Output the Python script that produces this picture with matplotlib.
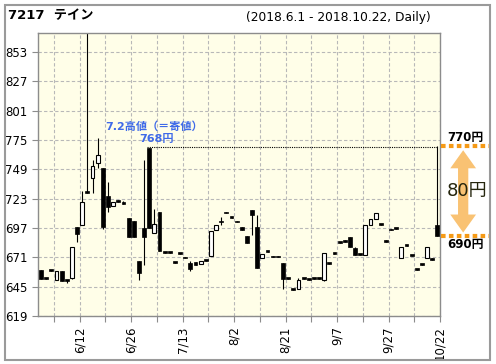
import matplotlib
matplotlib.use('Agg')
from matplotlib import pyplot as plt
from matplotlib.patches import Rectangle, Polygon
import numpy as np

plt.rcParams['font.family'] = ['DejaVu Sans', 'Noto Sans CJK JP']

# daily candles 2018.6.1 - 2018.10.22 (index = candle number)
opens  = [660, 653, 660, 651, 659, 651, 653, 698, 700, 729, 741, 755, 750, 725, 717, 721, 720, 706, 703, 668,
          697, 768, 693, 711, 676, 676, 667, 675, 671, 666, 667, 665, 669, 672, 695, 703, 711, 707, 703, 698,
          690, 713, 698, 670, 677, 672, 672, 666, 653, 643, 643, 653, 652, 653, 653, 651, 666, 675, 685, 686,
          689, 679, 674, 673, 700, 705, 701, 686, 696, 697, 670, 682, 673, 661, 665, 670, 670, 700]
highs  = [660, 653, 660, 659, 659, 651, 680, 698, 730, 900, 757, 777, 750, 738, 720, 722, 721, 706, 703, 668,
          757, 768, 714, 711, 676, 676, 667, 675, 671, 668, 667, 668, 669, 694, 700, 707, 711, 707, 703, 698,
          690, 713, 709, 674, 677, 672, 672, 666, 653, 643, 653, 653, 652, 653, 653, 675, 666, 675, 685, 686,
          689, 680, 674, 700, 705, 710, 701, 686, 696, 697, 680, 682, 673, 661, 665, 680, 670, 770]
lows   = [652, 652, 659, 651, 650, 648, 652, 685, 700, 728, 728, 750, 696, 711, 717, 720, 718, 689, 689, 651,
          664, 697, 693, 677, 675, 675, 666, 674, 670, 659, 664, 665, 668, 672, 695, 700, 710, 706, 702, 695,
          684, 691, 662, 670, 676, 671, 671, 643, 652, 642, 643, 652, 651, 652, 652, 650, 665, 674, 684, 685,
          680, 673, 673, 673, 700, 705, 700, 685, 695, 696, 670, 681, 672, 660, 664, 670, 669, 690]
closes = [652, 652, 659, 659, 650, 650, 680, 692, 720, 728, 752, 762, 698, 716, 720, 720, 718, 689, 689, 657,
          689, 697, 701, 677, 675, 675, 666, 674, 670, 661, 664, 668, 668, 694, 700, 702, 710, 706, 702, 695,
          684, 709, 662, 674, 676, 671, 671, 652, 652, 642, 651, 652, 651, 652, 652, 675, 665, 674, 684, 685,
          680, 673, 673, 700, 705, 710, 700, 685, 695, 696, 680, 681, 672, 660, 664, 680, 669, 690]

date_labels = ['6/12', '6/26', '7/13', '8/2', '8/21', '9/7', '9/27', '10/22']
y_ticks = [619, 645, 671, 697, 723, 749, 775, 801, 827, 853]

W, H = 496, 364
fig = plt.figure(figsize=(W / 100, H / 100), dpi=100)
fig.patch.set_facecolor('white')


def fx(x):
    return x / W


def fy(y):
    return 1 - y / H


ax = fig.add_axes([fx(38), fy(316), fx(440) - fx(38), fy(33) - fy(316)])
ax.set_facecolor('#fffee8')
ax.set_xlim(-0.6, 77.5)
ax.set_ylim(619, 870)

# grid
xt = np.arange(2.5, 78, 5)
ax.set_xticks(xt)
ax.set_xticklabels(['' if k % 2 == 0 else date_labels[k // 2] for k in range(len(xt))], rotation=90)
ax.set_yticks(y_ticks)
ax.grid(True, color='#b8b8b8', linestyle=(0, (3, 2)), linewidth=0.8)
ax.set_axisbelow(True)
for s in ax.spines.values():
    s.set_color('#8c8c8c')
    s.set_linewidth(1.0)
ax.tick_params(axis='both', colors='#8c8c8c', labelcolor='black', length=4, width=0.8, labelsize=8.5)

# candles
bw = 0.75
for i in range(len(opens)):
    o, h, l, c = opens[i], highs[i], lows[i], closes[i]
    ax.vlines(i, l, h, color='black', linewidth=0.8, zorder=2)
    bottom = min(o, c)
    height = max(abs(c - o), 1.6)
    if c > o:
        ax.add_patch(Rectangle((i - bw / 2, bottom), bw, height, facecolor='white',
                               edgecolor='black', linewidth=0.8, zorder=3))
    else:
        ax.add_patch(Rectangle((i - bw / 2, bottom), bw, height, facecolor='black',
                               edgecolor='black', linewidth=0.5, zorder=3))

# high line from 7/2
ax.plot([20.6, 77], [769, 769], color='black', linestyle=(0, (1, 1)), linewidth=0.8, zorder=4)
ax.text(22, 787, '7.2高値（＝寄値）', color='#3f6ae8', fontsize=8, fontweight='bold', ha='center', va='center')
ax.text(22.5, 776, '768円', color='#3f6ae8', fontsize=8, fontweight='bold', ha='center', va='center')

# right side: 770 -> 690 range
orange = '#f59a16'
for yv in (770, 690):
    ax.plot([77.7, 87.3], [yv, yv], color=orange, linewidth=3, linestyle=(0, (1.1, 0.8)),
            solid_capstyle='butt', dash_capstyle='butt', clip_on=False, zorder=5)
cx = 82.0
sw, hw, hl = 1.0, 2.5, 16
top, bot = 766, 693
arrow = [(cx, top), (cx + hw, top - hl), (cx + sw, top - hl), (cx + sw, bot + hl), (cx + hw, bot + hl),
         (cx, bot), (cx - hw, bot + hl), (cx - sw, bot + hl), (cx - sw, top - hl), (cx - hw, top - hl)]
ax.add_patch(Polygon(arrow, closed=True, facecolor=orange, edgecolor='none', alpha=0.6,
                     clip_on=False, zorder=5))
ax.text(82.8, 730, '80円', fontsize=13, color='#26260e', ha='center', va='center', zorder=6)
ax.text(82.5, 777, '770円', fontsize=8.5, fontweight='bold', ha='center', va='center')
ax.text(82.5, 682, '690円', fontsize=8.5, fontweight='bold', ha='center', va='center')

# titles
fig.text(fx(8), fy(16), '7217  テイン', fontsize=9.5, fontweight='bold', ha='left', va='center')
fig.text(fx(431), fy(18), '(2018.6.1 - 2018.10.22, Daily)', fontsize=8.8, ha='right', va='center')

# outer frame
fig.patches.append(Rectangle((fx(5), fy(360)), fx(490) - fx(5), fy(5) - fy(360), transform=fig.transFigure,
                             fill=False, edgecolor='#9a9a9a', linewidth=1.5))

fig.savefig('out.png', dpi=100)
